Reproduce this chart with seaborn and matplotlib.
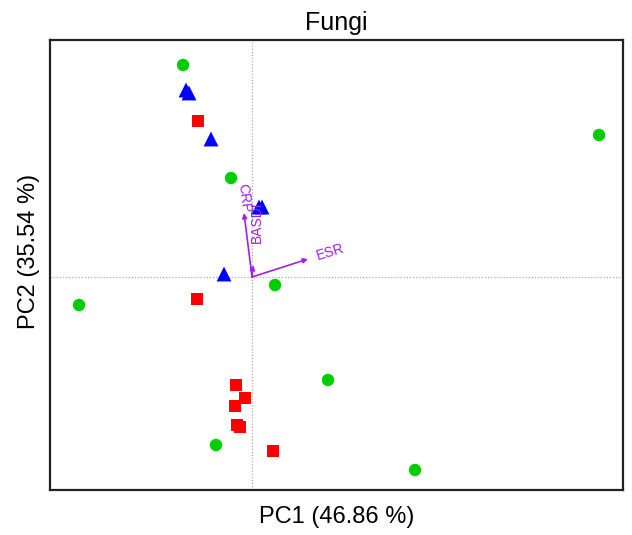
import matplotlib
matplotlib.use("Agg")
import matplotlib.pyplot as plt
import seaborn as sns
import pandas as pd

sns.set_theme(style="white")
plt.rcParams['font.family'] = ['Liberation Sans', 'DejaVu Sans']

# Sample scores (PC1, PC2) per group
green_pc1 = [-0.69, 3.47, -0.21, -1.73, 0.23, 0.76, -0.36, 1.63]
green_pc2 = [2.12, 1.42, 0.99, -0.28, -0.08, -1.03, -1.68, -1.93]
red_pc1 = [-0.54, -0.55, -0.16, -0.07, -0.17, -0.15, -0.12, 0.21]
red_pc2 = [1.56, -0.22, -1.08, -1.21, -1.29, -1.48, -1.50, -1.74]
blue_pc1 = [-0.66, -0.63, -0.41, 0.07, 0.10, -0.28]
blue_pc2 = [1.87, 1.84, 1.38, 0.70, 0.70, 0.03]

# Loadings (arrows)
var_names = ["CRP", "BASDI", "ESR"]
var_pc1 = [-0.08, 0.01, 0.56]
var_pc2 = [0.64, 0.12, 0.18]
label_pc1 = [-0.08, 0.05, 0.78]
label_pc2 = [0.79, 0.55, 0.25]
label_rot = [-83, 90, 17]

title = "Fungi"
xlabel = "PC1 (46.86 %)"
ylabel = "PC2 (35.54 %)"

df = pd.DataFrame({
    "PC1": green_pc1 + red_pc1 + blue_pc1,
    "PC2": green_pc2 + red_pc2 + blue_pc2,
    "group": ["G"] * len(green_pc1) + ["R"] * len(red_pc1) + ["B"] * len(blue_pc1),
})

fig = plt.figure(figsize=(6.32, 5.35), dpi=100)
ax = fig.add_axes([50 / 632, 1 - 490 / 535, (623 - 50) / 632, (490 - 40) / 535])

ax.axvline(0, color="#aaaaaa", lw=0.9, ls=(0, (1, 1.5)), zorder=0)
ax.axhline(0, color="#aaaaaa", lw=0.9, ls=(0, (1, 1.5)), zorder=0)

palette = {"G": "#00CD00", "R": "#FF0000", "B": "#0000FF"}
markers = {"G": "o", "R": "s", "B": "^"}
sizes = {"G": 80, "R": 75, "B": 115}
for g in ["G", "R", "B"]:
    sub = df[df["group"] == g]
    sns.scatterplot(data=sub, x="PC1", y="PC2", color=palette[g], marker=markers[g],
                    s=sizes[g], edgecolor="none", linewidth=0, ax=ax, legend=False, zorder=3)

purple = "#A020F0"
for name, x, y, lx, ly, r in zip(var_names, var_pc1, var_pc2, label_pc1, label_pc2, label_rot):
    ax.annotate("", xy=(x, y), xytext=(0, 0),
                arrowprops=dict(arrowstyle="-|>", color=purple, lw=1.2,
                                mutation_scale=7, shrinkA=0, shrinkB=0), zorder=4)
    ax.text(lx, ly, name, color=purple, fontsize=10, rotation=r,
            ha="center", va="center", rotation_mode="anchor", zorder=5)

ax.set_xlim((50 - 252) / 100, (623 - 252) / 100)
ax.set_ylim((277 - 490) / 100, (277 - 40) / 100)
ax.set_xticks([])
ax.set_yticks([])
for sp in ax.spines.values():
    sp.set_color("#222222")
    sp.set_linewidth(1.6)

ax.set_title(title, fontsize=18, pad=7, color="black")
ax.set_xlabel(xlabel, fontsize=17, color="black")
ax.set_ylabel(ylabel, fontsize=17, color="black")
ax.xaxis.set_label_coords(0.5, -0.035, transform=ax.transAxes)
ax.xaxis.label.set_va("top")
ax.yaxis.set_label_coords(-0.017, 0.53)

fig.savefig("out.png", dpi=100, facecolor="white")
